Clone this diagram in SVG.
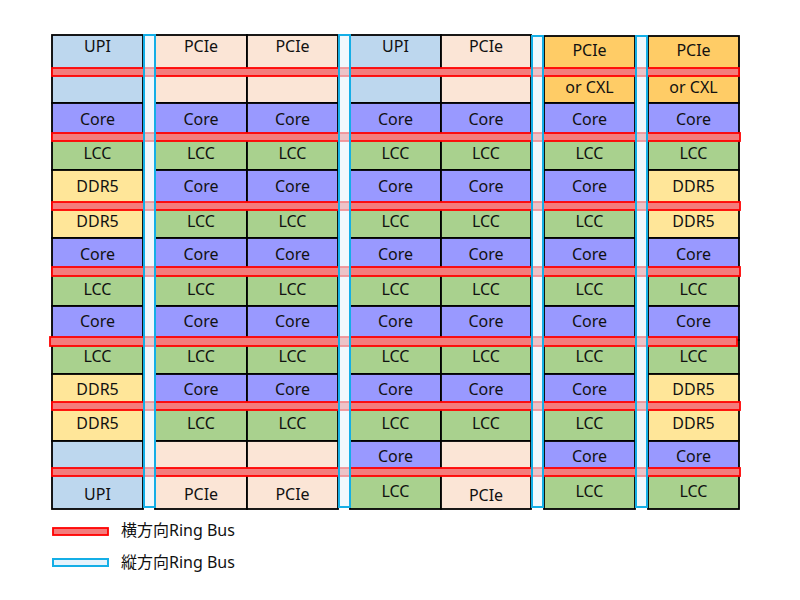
<svg xmlns="http://www.w3.org/2000/svg" width="800" height="600" viewBox="0 0 800 600">
<style>
.c rect{stroke:#000;stroke-width:1.8}
.upi{fill:#bdd7ee}.pcie{fill:#fbe5d6}.cxl{fill:#ffcc66}.core{fill:#9999ff}.lcc{fill:#a9d18e}.ddr{fill:#ffe699}
text{font-family:"Noto Sans","Noto Sans CJK JP",sans-serif;font-size:16px;fill:#111;text-anchor:middle;dominant-baseline:central}
.hb{fill:#f47c7c;stroke:#ff0000;stroke-width:1.8}
.vb{fill:#e6f3fc;fill-opacity:0.6;stroke:#14aee6;stroke-width:2}
.lg{text-anchor:start}
</style>
<rect width="800" height="600" fill="#fff"/>
<g id="cells" class="c">
<!-- top rows -->
<g id="c1-top"><rect class="upi" x="52" y="35" width="91" height="68"/><text x="97.5" y="46">UPI</text></g>
<g id="c2-top"><rect class="pcie" x="155" y="35" width="92" height="68"/><text x="201" y="46">PCIe</text></g>
<g id="c3-top"><rect class="pcie" x="247" y="35" width="91" height="68"/><text x="292.5" y="46">PCIe</text></g>
<g id="c4-top"><rect class="upi" x="350" y="35" width="91" height="68"/><text x="395.5" y="46">UPI</text></g>
<g id="c5-top"><rect class="pcie" x="441" y="35" width="90" height="68"/><text x="486" y="46">PCIe</text></g>
<g id="c6-top"><rect class="cxl" x="544" y="36" width="91" height="67"/><text x="589.5" y="50">PCIe</text><text x="589.5" y="87">or CXL</text></g>
<g id="c7-top"><rect class="cxl" x="648" y="36" width="91" height="67"/><text x="693.5" y="50">PCIe</text><text x="693.5" y="87">or CXL</text></g>
<!-- row2 Core -->
<g id="r2c1"><rect class="core" x="52" y="103" width="91" height="34"/><text x="97.5" y="118.5">Core</text></g>
<g id="r2c2"><rect class="core" x="155" y="103" width="92" height="34"/><text x="201" y="118.5">Core</text></g>
<g id="r2c3"><rect class="core" x="247" y="103" width="91" height="34"/><text x="292.5" y="118.5">Core</text></g>
<g id="r2c4"><rect class="core" x="350" y="103" width="91" height="34"/><text x="395.5" y="118.5">Core</text></g>
<g id="r2c5"><rect class="core" x="441" y="103" width="90" height="34"/><text x="486" y="118.5">Core</text></g>
<g id="r2c6"><rect class="core" x="544" y="103" width="91" height="34"/><text x="589.5" y="118.5">Core</text></g>
<g id="r2c7"><rect class="core" x="648" y="103" width="91" height="34"/><text x="693.5" y="118.5">Core</text></g>
<!-- row3 LCC -->
<g id="r3c1"><rect class="lcc" x="52" y="137" width="91" height="33"/><text x="97.5" y="152.5">LCC</text></g>
<g id="r3c2"><rect class="lcc" x="155" y="137" width="92" height="33"/><text x="201" y="152.5">LCC</text></g>
<g id="r3c3"><rect class="lcc" x="247" y="137" width="91" height="33"/><text x="292.5" y="152.5">LCC</text></g>
<g id="r3c4"><rect class="lcc" x="350" y="137" width="91" height="33"/><text x="395.5" y="152.5">LCC</text></g>
<g id="r3c5"><rect class="lcc" x="441" y="137" width="90" height="33"/><text x="486" y="152.5">LCC</text></g>
<g id="r3c6"><rect class="lcc" x="544" y="137" width="91" height="33"/><text x="589.5" y="152.5">LCC</text></g>
<g id="r3c7"><rect class="lcc" x="648" y="137" width="91" height="33"/><text x="693.5" y="152.5">LCC</text></g>
<!-- row4 -->
<g id="r4c1"><rect class="ddr" x="52" y="170" width="91" height="34"/><text x="97.5" y="186">DDR5</text></g>
<g id="r4c2"><rect class="core" x="155" y="170" width="92" height="34"/><text x="201" y="186">Core</text></g>
<g id="r4c3"><rect class="core" x="247" y="170" width="91" height="34"/><text x="292.5" y="186">Core</text></g>
<g id="r4c4"><rect class="core" x="350" y="170" width="91" height="34"/><text x="395.5" y="186">Core</text></g>
<g id="r4c5"><rect class="core" x="441" y="170" width="90" height="34"/><text x="486" y="186">Core</text></g>
<g id="r4c6"><rect class="core" x="544" y="170" width="91" height="34"/><text x="589.5" y="186">Core</text></g>
<g id="r4c7"><rect class="ddr" x="648" y="170" width="91" height="34"/><text x="693.5" y="186">DDR5</text></g>
<!-- row5 -->
<g id="r5c1"><rect class="ddr" x="52" y="204" width="91" height="34"/><text x="97.5" y="221">DDR5</text></g>
<g id="r5c2"><rect class="lcc" x="155" y="204" width="92" height="34"/><text x="201" y="221">LCC</text></g>
<g id="r5c3"><rect class="lcc" x="247" y="204" width="91" height="34"/><text x="292.5" y="221">LCC</text></g>
<g id="r5c4"><rect class="lcc" x="350" y="204" width="91" height="34"/><text x="395.5" y="221">LCC</text></g>
<g id="r5c5"><rect class="lcc" x="441" y="204" width="90" height="34"/><text x="486" y="221">LCC</text></g>
<g id="r5c6"><rect class="lcc" x="544" y="204" width="91" height="34"/><text x="589.5" y="221">LCC</text></g>
<g id="r5c7"><rect class="ddr" x="648" y="204" width="91" height="34"/><text x="693.5" y="221">DDR5</text></g>
<!-- row6 Core -->
<g id="r6c1"><rect class="core" x="52" y="238" width="91" height="34"/><text x="97.5" y="254">Core</text></g>
<g id="r6c2"><rect class="core" x="155" y="238" width="92" height="34"/><text x="201" y="254">Core</text></g>
<g id="r6c3"><rect class="core" x="247" y="238" width="91" height="34"/><text x="292.5" y="254">Core</text></g>
<g id="r6c4"><rect class="core" x="350" y="238" width="91" height="34"/><text x="395.5" y="254">Core</text></g>
<g id="r6c5"><rect class="core" x="441" y="238" width="90" height="34"/><text x="486" y="254">Core</text></g>
<g id="r6c6"><rect class="core" x="544" y="238" width="91" height="34"/><text x="589.5" y="254">Core</text></g>
<g id="r6c7"><rect class="core" x="648" y="238" width="91" height="34"/><text x="693.5" y="254">Core</text></g>
<!-- row7 LCC -->
<g id="r7c1"><rect class="lcc" x="52" y="272" width="91" height="34"/><text x="97.5" y="289">LCC</text></g>
<g id="r7c2"><rect class="lcc" x="155" y="272" width="92" height="34"/><text x="201" y="289">LCC</text></g>
<g id="r7c3"><rect class="lcc" x="247" y="272" width="91" height="34"/><text x="292.5" y="289">LCC</text></g>
<g id="r7c4"><rect class="lcc" x="350" y="272" width="91" height="34"/><text x="395.5" y="289">LCC</text></g>
<g id="r7c5"><rect class="lcc" x="441" y="272" width="90" height="34"/><text x="486" y="289">LCC</text></g>
<g id="r7c6"><rect class="lcc" x="544" y="272" width="91" height="34"/><text x="589.5" y="289">LCC</text></g>
<g id="r7c7"><rect class="lcc" x="648" y="272" width="91" height="34"/><text x="693.5" y="289">LCC</text></g>
<!-- row8 Core -->
<g id="r8c1"><rect class="core" x="52" y="306" width="91" height="34"/><text x="97.5" y="321">Core</text></g>
<g id="r8c2"><rect class="core" x="155" y="306" width="92" height="34"/><text x="201" y="321">Core</text></g>
<g id="r8c3"><rect class="core" x="247" y="306" width="91" height="34"/><text x="292.5" y="321">Core</text></g>
<g id="r8c4"><rect class="core" x="350" y="306" width="91" height="34"/><text x="395.5" y="321">Core</text></g>
<g id="r8c5"><rect class="core" x="441" y="306" width="90" height="34"/><text x="486" y="321">Core</text></g>
<g id="r8c6"><rect class="core" x="544" y="306" width="91" height="34"/><text x="589.5" y="321">Core</text></g>
<g id="r8c7"><rect class="core" x="648" y="306" width="91" height="34"/><text x="693.5" y="321">Core</text></g>
<!-- row9 LCC -->
<g id="r9c1"><rect class="lcc" x="52" y="340" width="91" height="34"/><text x="97.5" y="355.5">LCC</text></g>
<g id="r9c2"><rect class="lcc" x="155" y="340" width="92" height="34"/><text x="201" y="355.5">LCC</text></g>
<g id="r9c3"><rect class="lcc" x="247" y="340" width="91" height="34"/><text x="292.5" y="355.5">LCC</text></g>
<g id="r9c4"><rect class="lcc" x="350" y="340" width="91" height="34"/><text x="395.5" y="355.5">LCC</text></g>
<g id="r9c5"><rect class="lcc" x="441" y="340" width="90" height="34"/><text x="486" y="355.5">LCC</text></g>
<g id="r9c6"><rect class="lcc" x="544" y="340" width="91" height="34"/><text x="589.5" y="355.5">LCC</text></g>
<g id="r9c7"><rect class="lcc" x="648" y="340" width="91" height="34"/><text x="693.5" y="355.5">LCC</text></g>
<!-- row10 -->
<g id="r10c1"><rect class="ddr" x="52" y="374" width="91" height="33"/><text x="97.5" y="388.5">DDR5</text></g>
<g id="r10c2"><rect class="core" x="155" y="374" width="92" height="33"/><text x="201" y="388.5">Core</text></g>
<g id="r10c3"><rect class="core" x="247" y="374" width="91" height="33"/><text x="292.5" y="388.5">Core</text></g>
<g id="r10c4"><rect class="core" x="350" y="374" width="91" height="33"/><text x="395.5" y="388.5">Core</text></g>
<g id="r10c5"><rect class="core" x="441" y="374" width="90" height="33"/><text x="486" y="388.5">Core</text></g>
<g id="r10c6"><rect class="core" x="544" y="374" width="91" height="33"/><text x="589.5" y="388.5">Core</text></g>
<g id="r10c7"><rect class="ddr" x="648" y="374" width="91" height="33"/><text x="693.5" y="388.5">DDR5</text></g>
<!-- row11 -->
<g id="r11c1"><rect class="ddr" x="52" y="407" width="91" height="34"/><text x="97.5" y="423">DDR5</text></g>
<g id="r11c2"><rect class="lcc" x="155" y="407" width="92" height="34"/><text x="201" y="423">LCC</text></g>
<g id="r11c3"><rect class="lcc" x="247" y="407" width="91" height="34"/><text x="292.5" y="423">LCC</text></g>
<g id="r11c4"><rect class="lcc" x="350" y="407" width="91" height="34"/><text x="395.5" y="423">LCC</text></g>
<g id="r11c5"><rect class="lcc" x="441" y="407" width="90" height="34"/><text x="486" y="423">LCC</text></g>
<g id="r11c6"><rect class="lcc" x="544" y="407" width="91" height="34"/><text x="589.5" y="423">LCC</text></g>
<g id="r11c7"><rect class="ddr" x="648" y="407" width="91" height="34"/><text x="693.5" y="423">DDR5</text></g>
<!-- bottom rows -->
<g id="c1-bot"><rect class="upi" x="52" y="441" width="91" height="68"/><text x="97.5" y="494">UPI</text></g>
<g id="c2-bot"><rect class="pcie" x="155" y="441" width="92" height="68"/><text x="201" y="494">PCIe</text></g>
<g id="c3-bot"><rect class="pcie" x="247" y="441" width="91" height="68"/><text x="292.5" y="494">PCIe</text></g>
<g id="r12c4"><rect class="core" x="350" y="441" width="91" height="34"/><text x="395.5" y="456">Core</text></g>
<g id="r13c4"><rect class="lcc" x="350" y="475" width="91" height="34"/><text x="395.5" y="491">LCC</text></g>
<g id="c5-bot"><rect class="pcie" x="441" y="441" width="90" height="68"/><text x="486" y="495">PCIe</text></g>
<g id="r12c6"><rect class="core" x="544" y="441" width="91" height="34"/><text x="589.5" y="456">Core</text></g>
<g id="r13c6"><rect class="lcc" x="544" y="475" width="91" height="34"/><text x="589.5" y="491">LCC</text></g>
<g id="r12c7"><rect class="core" x="648" y="441" width="91" height="34"/><text x="693.5" y="456">Core</text></g>
<g id="r13c7"><rect class="lcc" x="648" y="475" width="91" height="34"/><text x="693.5" y="491">LCC</text></g>
</g>
<g id="connectors">
<g id="horizontal-ring">
<rect class="hb" x="52" y="68" width="687" height="8"/>
<rect class="hb" x="52" y="133" width="688" height="8"/>
<rect class="hb" x="52" y="202" width="688" height="8"/>
<rect class="hb" x="52" y="267" width="688" height="9"/>
<rect class="hb" x="50" y="337" width="687" height="9"/>
<rect class="hb" x="52" y="402" width="688" height="8"/>
<rect class="hb" x="52" y="468" width="688" height="8"/>
</g>
<g id="vertical-ring">
<rect class="vb" x="144" y="35" width="11" height="472"/>
<rect class="vb" x="339" y="35" width="11" height="472"/>
<rect class="vb" x="532" y="36" width="11" height="471"/>
<rect class="vb" x="636" y="36" width="11" height="471"/>
</g>
</g>
<g id="legend">
<g id="legend-h"><rect class="hb" x="53" y="528" width="55" height="7"/><text class="lg" x="121" y="530">横方向Ring Bus</text></g>
<g id="legend-v"><rect class="vb" x="53" y="559" width="55" height="7" style="fill-opacity:1"/><text class="lg" x="121" y="562">縦方向Ring Bus</text></g>
</g>
</svg>
